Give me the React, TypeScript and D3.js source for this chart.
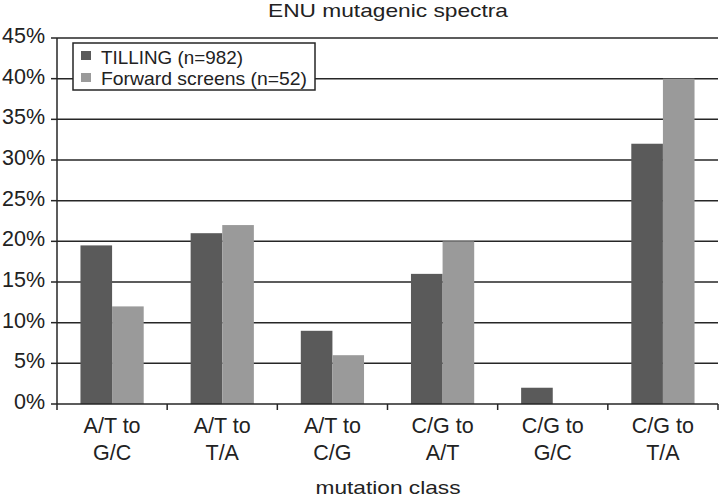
import React from "react";
import * as d3 from "d3";

const categories = [
  ["A/T to", "G/C"],
  ["A/T to", "T/A"],
  ["A/T to", "C/G"],
  ["C/G to", "A/T"],
  ["C/G to", "G/C"],
  ["C/G to", "T/A"],
];
const tilling = [19.5, 21, 9, 16, 2, 32];
const forward = [12, 22, 6, 20, 0, 40];
const seriesNames = ["TILLING (n=982)", "Forward screens (n=52)"];
const seriesColors = ["#5a5a5a", "#9a9a9a"];
const yTicks = [0, 5, 10, 15, 20, 25, 30, 35, 40, 45];

export default function App() {
  const W = 720, H = 497;
  const left = 57, right = 718, top = 38, bottom = 404;
  const font = "Liberation Sans, Arial, sans-serif";
  const x = d3.scaleBand<number>().domain(d3.range(categories.length)).range([left, right]).paddingInner(0).paddingOuter(0);
  const bw = x.bandwidth();
  const barW = bw * 0.287;
  const y = d3.scaleLinear().domain([0, 45]).range([bottom, top]);
  const series = [tilling, forward];
  const axisColor = "#262626";
  return (
    <svg width={W} height={H} style={{ position: "absolute", left: 0, top: 0, background: "#fff" }} fontFamily={font}>
      <text x={388} y={17} textAnchor="middle" fontSize={19} fill="#222" textLength={240} lengthAdjust="spacingAndGlyphs">ENU mutagenic spectra</text>
      {yTicks.map((t) => (
        <g key={t}>
          {t > 0 && <line x1={left} x2={right} y1={y(t)} y2={y(t)} stroke={axisColor} strokeWidth={1.5} />}
          <line x1={left - 6} x2={left} y1={y(t)} y2={y(t)} stroke={axisColor} strokeWidth={1.5} />
          <text x={45} y={y(t) + 5} textAnchor="end" fontSize={21.5} fill="#222">{t}%</text>
        </g>
      ))}
      {series.map((vals, si) =>
        vals.map((v, i) => {
          const cx = (x(i) as number) + bw / 2;
          const bx = cx - barW + si * barW;
          return v > 0 ? (
            <rect key={si + "-" + i} x={bx} y={y(v)} width={barW} height={y(0) - y(v)} fill={seriesColors[si]} />
          ) : null;
        })
      )}
      <line x1={left} x2={left} y1={top} y2={bottom} stroke={axisColor} strokeWidth={1.5} />
      <line x1={left} x2={right} y1={bottom} y2={bottom} stroke={axisColor} strokeWidth={1.5} />
      {d3.range(categories.length + 1).map((i) => {
        const tx = i < categories.length ? (x(i) as number) : right;
        return <line key={i} x1={tx} x2={tx} y1={bottom} y2={bottom + 6} stroke={axisColor} strokeWidth={1.5} />;
      })}
      {categories.map((c, i) => {
        const cx = (x(i) as number) + bw / 2;
        return (
          <text key={i} x={cx} textAnchor="middle" fontSize={21.5} fill="#222">
            <tspan x={cx} y={433}>{c[0]}</tspan>
            <tspan x={cx} y={460}>{c[1]}</tspan>
          </text>
        );
      })}
      <text x={388} y={494} textAnchor="middle" fontSize={19} fill="#222" textLength={145} lengthAdjust="spacingAndGlyphs">mutation class</text>
      <rect x={73} y={43} width={242} height={47} fill="#fff" stroke={axisColor} strokeWidth={1.5} />
      {seriesNames.map((n, i) => (
        <g key={n}>
          <rect x={81} y={51 + i * 22} width={10} height={9} fill={seriesColors[i]} />
          <text x={101} y={64 + i * 21} fontSize={19} fill="#222" textLength={i === 0 ? 142 : 206} lengthAdjust="spacingAndGlyphs">{n}</text>
        </g>
      ))}
    </svg>
  );
}
